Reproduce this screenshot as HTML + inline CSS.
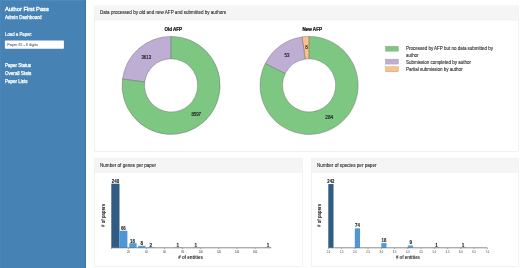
<!DOCTYPE html>
<html lang="en"><head><meta charset="utf-8"><title>Author First Pass - Admin Dashboard</title>
<style>html,body{margin:0;padding:0;background:#fff;overflow:hidden}svg{display:block;will-change:transform}text{white-space:pre}</style></head><body>
<svg width="520" height="268" viewBox="0 0 520 268">
<rect width="520" height="268" fill="#ffffff"/>
<rect x="0" y="0" width="86" height="268" fill="#4682b4"/>
<rect x="84.4" y="0" width="1.5" height="268" fill="#3f79aa"/>
<rect x="0" y="0" width="84.4" height="1" fill="#4d89bb"/>
<rect x="0" y="0" width="0.8" height="268" fill="#4d89bb"/>
<text x="5.0" y="11.1" font-family="Liberation Sans, sans-serif" font-size="6.0" font-weight="normal" fill="#ffffff" text-anchor="start" textLength="43.8" lengthAdjust="spacingAndGlyphs" stroke="#ffffff" stroke-width="0.34">Author First Pass</text>
<text x="5.0" y="18.8" font-family="Liberation Sans, sans-serif" font-size="4.8" font-weight="normal" fill="#ffffff" text-anchor="start" textLength="36.5" lengthAdjust="spacingAndGlyphs" stroke="#ffffff" stroke-width="0.25">Admin Dashboard</text>
<text x="5.0" y="36.1" font-family="Liberation Sans, sans-serif" font-size="4.7" font-weight="normal" fill="#ffffff" text-anchor="start" textLength="27.2" lengthAdjust="spacingAndGlyphs" stroke="#ffffff" stroke-width="0.2">Load a Paper:</text>
<rect x="4.9" y="40.5" width="59" height="8.3" rx="0.8" fill="#ffffff"/>
<text x="7.2" y="45.9" font-family="Liberation Sans, sans-serif" font-size="4.0" font-weight="normal" fill="#707070" text-anchor="start" textLength="30.8" lengthAdjust="spacingAndGlyphs" stroke="#707070" stroke-width="0.1">Paper ID - 8 digits</text>
<text x="4.9" y="67.0" font-family="Liberation Sans, sans-serif" font-size="4.8" font-weight="normal" fill="#ffffff" text-anchor="start" textLength="26" lengthAdjust="spacingAndGlyphs" stroke="#ffffff" stroke-width="0.25">Paper Status</text>
<text x="4.9" y="74.8" font-family="Liberation Sans, sans-serif" font-size="4.8" font-weight="normal" fill="#ffffff" text-anchor="start" textLength="26.4" lengthAdjust="spacingAndGlyphs" stroke="#ffffff" stroke-width="0.25">Overall Stats</text>
<text x="4.9" y="82.5" font-family="Liberation Sans, sans-serif" font-size="4.8" font-weight="normal" fill="#ffffff" text-anchor="start" textLength="22.6" lengthAdjust="spacingAndGlyphs" stroke="#ffffff" stroke-width="0.25">Paper Lists</text>
<rect x="94.5" y="6.0" width="424.2" height="145.3" fill="#ffffff" stroke="#e6e6e6" stroke-width="0.5"/>
<rect x="94.75" y="6.25" width="423.7" height="13.7" fill="#f5f5f5"/>
<line x1="94.5" y1="19.95" x2="518.7" y2="19.95" stroke="#e6e6e6" stroke-width="0.5"/>
<text x="100.0" y="14.35" font-family="Liberation Sans, sans-serif" font-size="4.8" font-weight="normal" fill="#333333" text-anchor="start" textLength="126" lengthAdjust="spacingAndGlyphs" stroke="#333333" stroke-width="0.12">Data processed by old and new AFP and submitted by authors</text>
<rect x="94.5" y="158.4" width="208.2" height="108.3" fill="#ffffff" stroke="#e6e6e6" stroke-width="0.5"/>
<rect x="94.75" y="158.65" width="207.7" height="13.6" fill="#f5f5f5"/>
<line x1="94.5" y1="172.25" x2="302.7" y2="172.25" stroke="#e6e6e6" stroke-width="0.5"/>
<text x="100.0" y="166.70000000000002" font-family="Liberation Sans, sans-serif" font-size="4.8" font-weight="normal" fill="#333333" text-anchor="start" textLength="56" lengthAdjust="spacingAndGlyphs" stroke="#333333" stroke-width="0.12">Number of genes per paper</text>
<rect x="311.5" y="158.4" width="207.2" height="108.3" fill="#ffffff" stroke="#e6e6e6" stroke-width="0.5"/>
<rect x="311.75" y="158.65" width="206.7" height="13.6" fill="#f5f5f5"/>
<line x1="311.5" y1="172.25" x2="518.7" y2="172.25" stroke="#e6e6e6" stroke-width="0.5"/>
<text x="317.0" y="166.70000000000002" font-family="Liberation Sans, sans-serif" font-size="4.8" font-weight="normal" fill="#333333" text-anchor="start" textLength="59.5" lengthAdjust="spacingAndGlyphs" stroke="#333333" stroke-width="0.12">Number of species per paper</text>
<path d="M171.10,36.40 A49.0,49.0 0 0 0 122.51,79.09 L144.72,81.97 A26.6,26.6 0 0 1 171.10,58.80 Z" fill="#beaed4" stroke="#6a6a6a" stroke-width="0.45" stroke-linejoin="round"/>
<path d="M122.51,79.09 A49.0,49.0 0 1 0 171.10,36.40 L171.10,58.80 A26.6,26.6 0 1 1 144.72,81.97 Z" fill="#7ec782" stroke="#6a6a6a" stroke-width="0.45" stroke-linejoin="round"/>
<path d="M309.10,36.40 A49.0,49.0 0 0 0 301.98,36.92 L305.24,59.08 A26.6,26.6 0 0 1 309.10,58.80 Z" fill="#fdc086" stroke="#6a6a6a" stroke-width="0.45" stroke-linejoin="round"/>
<path d="M301.98,36.92 A49.0,49.0 0 0 0 265.19,63.65 L285.26,73.59 A26.6,26.6 0 0 1 305.24,59.08 Z" fill="#beaed4" stroke="#6a6a6a" stroke-width="0.45" stroke-linejoin="round"/>
<path d="M265.19,63.65 A49.0,49.0 0 1 0 309.10,36.40 L309.10,58.80 A26.6,26.6 0 1 1 285.26,73.59 Z" fill="#7ec782" stroke="#6a6a6a" stroke-width="0.45" stroke-linejoin="round"/>
<text x="173.2" y="30.8" font-family="Liberation Sans, sans-serif" font-size="4.46" font-weight="bold" fill="#111111" text-anchor="middle" textLength="17.6" lengthAdjust="spacingAndGlyphs" stroke="#111111" stroke-width="0.22">Old AFP</text>
<text x="312.2" y="30.8" font-family="Liberation Sans, sans-serif" font-size="4.5" font-weight="bold" fill="#111111" text-anchor="middle" textLength="19.5" lengthAdjust="spacingAndGlyphs" stroke="#111111" stroke-width="0.22">New AFP</text>
<text x="146.3" y="58.5" font-family="Liberation Sans, sans-serif" font-size="4.5" font-weight="normal" fill="#222222" text-anchor="middle" textLength="9.8" lengthAdjust="spacingAndGlyphs" stroke="#222222" stroke-width="0.16">3613</text>
<text x="196.2" y="115.5" font-family="Liberation Sans, sans-serif" font-size="4.5" font-weight="normal" fill="#222222" text-anchor="middle" textLength="9.6" lengthAdjust="spacingAndGlyphs" stroke="#222222" stroke-width="0.16">8597</text>
<text x="286.9" y="56.5" font-family="Liberation Sans, sans-serif" font-size="4.5" font-weight="normal" fill="#222222" text-anchor="middle" textLength="4.9" lengthAdjust="spacingAndGlyphs" stroke="#222222" stroke-width="0.16">53</text>
<text x="306.4" y="49.4" font-family="Liberation Sans, sans-serif" font-size="4.5" font-weight="normal" fill="#222222" text-anchor="middle" stroke="#222222" stroke-width="0.16">8</text>
<text x="329.3" y="119.3" font-family="Liberation Sans, sans-serif" font-size="4.5" font-weight="normal" fill="#222222" text-anchor="middle" textLength="7.9" lengthAdjust="spacingAndGlyphs" stroke="#222222" stroke-width="0.16">284</text>
<rect x="385.5" y="46.2" width="13" height="5.1" fill="#7ec782" stroke="#8a8a8a" stroke-width="0.3"/>
<rect x="385.5" y="59.1" width="13" height="5.0" fill="#beaed4" stroke="#8a8a8a" stroke-width="0.3"/>
<rect x="385.5" y="66.7" width="13" height="5.1" fill="#fdc086" stroke="#8a8a8a" stroke-width="0.3"/>
<text x="406" y="50.4" font-family="Liberation Sans, sans-serif" font-size="4.7" font-weight="normal" fill="#333333" text-anchor="start" textLength="87" lengthAdjust="spacingAndGlyphs" stroke="#333333" stroke-width="0.12">Processed by AFP but no data submitted by</text>
<text x="406" y="57.1" font-family="Liberation Sans, sans-serif" font-size="4.7" font-weight="normal" fill="#333333" text-anchor="start" textLength="12.5" lengthAdjust="spacingAndGlyphs" stroke="#333333" stroke-width="0.12">author</text>
<text x="406" y="63.85" font-family="Liberation Sans, sans-serif" font-size="4.7" font-weight="normal" fill="#333333" text-anchor="start" textLength="65" lengthAdjust="spacingAndGlyphs" stroke="#333333" stroke-width="0.12">Submission completed by author</text>
<text x="406" y="70.8" font-family="Liberation Sans, sans-serif" font-size="4.7" font-weight="normal" fill="#333333" text-anchor="start" textLength="56.5" lengthAdjust="spacingAndGlyphs" stroke="#333333" stroke-width="0.12">Partial submission by author</text>
<rect x="111.30" y="183.70" width="8.20" height="64.10" fill="#2f5b85"/>
<rect x="119.50" y="230.74" width="7.90" height="17.06" fill="#4e97d6"/>
<rect x="129.30" y="243.15" width="7.30" height="4.65" fill="#4f9ad8"/>
<rect x="138.10" y="245.73" width="7.40" height="2.07" fill="#5aa5e0"/>
<rect x="147.40" y="247.28" width="7.30" height="0.52" fill="#7ab8ea"/>
<rect x="174.48" y="247.39" width="7.40" height="0.41" fill="#8cc0ea"/>
<rect x="192.58" y="247.39" width="7.40" height="0.41" fill="#8cc0ea"/>
<rect x="264.98" y="247.39" width="7.40" height="0.41" fill="#8cc0ea"/>
<line x1="111.2" y1="247.8" x2="271" y2="247.8" stroke="#5c5c5c" stroke-width="0.7"/>
<text x="115.5" y="183.1" font-family="Liberation Sans, sans-serif" font-size="4.6" font-weight="bold" fill="#222222" text-anchor="middle" textLength="7.3" lengthAdjust="spacingAndGlyphs" stroke="#222222" stroke-width="0.1">248</text>
<text x="123.3" y="230.2" font-family="Liberation Sans, sans-serif" font-size="4.6" font-weight="bold" fill="#222222" text-anchor="middle" textLength="4.8" lengthAdjust="spacingAndGlyphs" stroke="#222222" stroke-width="0.1">66</text>
<text x="132.5" y="242.6" font-family="Liberation Sans, sans-serif" font-size="4.6" font-weight="bold" fill="#222222" text-anchor="middle" textLength="4.8" lengthAdjust="spacingAndGlyphs" stroke="#222222" stroke-width="0.1">18</text>
<text x="141.7" y="245.2" font-family="Liberation Sans, sans-serif" font-size="4.6" font-weight="bold" fill="#222222" text-anchor="middle" stroke="#222222" stroke-width="0.1">8</text>
<text x="150.7" y="246.8" font-family="Liberation Sans, sans-serif" font-size="4.6" font-weight="bold" fill="#222222" text-anchor="middle" stroke="#222222" stroke-width="0.1">2</text>
<text x="177.9" y="247.0" font-family="Liberation Sans, sans-serif" font-size="4.6" font-weight="bold" fill="#222222" text-anchor="middle" stroke="#222222" stroke-width="0.1">1</text>
<text x="195.7" y="247.0" font-family="Liberation Sans, sans-serif" font-size="4.6" font-weight="bold" fill="#222222" text-anchor="middle" stroke="#222222" stroke-width="0.1">1</text>
<text x="268.0" y="247.0" font-family="Liberation Sans, sans-serif" font-size="4.6" font-weight="bold" fill="#222222" text-anchor="middle" stroke="#222222" stroke-width="0.1">1</text>
<line x1="111.60" y1="247.8" x2="111.60" y2="249.10000000000002" stroke="#555555" stroke-width="0.45"/>
<line x1="128.40" y1="247.8" x2="128.40" y2="249.10000000000002" stroke="#555555" stroke-width="0.45"/>
<text x="128.40" y="253.15" font-family="Liberation Sans, sans-serif" font-size="2.6" font-weight="normal" fill="#333333" text-anchor="middle">20</text>
<line x1="146.50" y1="247.8" x2="146.50" y2="249.10000000000002" stroke="#555555" stroke-width="0.45"/>
<text x="146.50" y="253.15" font-family="Liberation Sans, sans-serif" font-size="2.6" font-weight="normal" fill="#333333" text-anchor="middle">40</text>
<line x1="164.60" y1="247.8" x2="164.60" y2="249.10000000000002" stroke="#555555" stroke-width="0.45"/>
<text x="164.60" y="253.15" font-family="Liberation Sans, sans-serif" font-size="2.6" font-weight="normal" fill="#333333" text-anchor="middle">60</text>
<line x1="182.70" y1="247.8" x2="182.70" y2="249.10000000000002" stroke="#555555" stroke-width="0.45"/>
<text x="182.70" y="253.15" font-family="Liberation Sans, sans-serif" font-size="2.6" font-weight="normal" fill="#333333" text-anchor="middle">80</text>
<line x1="200.80" y1="247.8" x2="200.80" y2="249.10000000000002" stroke="#555555" stroke-width="0.45"/>
<text x="200.80" y="253.15" font-family="Liberation Sans, sans-serif" font-size="2.6" font-weight="normal" fill="#333333" text-anchor="middle">100</text>
<line x1="218.90" y1="247.8" x2="218.90" y2="249.10000000000002" stroke="#555555" stroke-width="0.45"/>
<text x="218.90" y="253.15" font-family="Liberation Sans, sans-serif" font-size="2.6" font-weight="normal" fill="#333333" text-anchor="middle">120</text>
<line x1="237.00" y1="247.8" x2="237.00" y2="249.10000000000002" stroke="#555555" stroke-width="0.45"/>
<text x="237.00" y="253.15" font-family="Liberation Sans, sans-serif" font-size="2.6" font-weight="normal" fill="#333333" text-anchor="middle">140</text>
<line x1="255.10" y1="247.8" x2="255.10" y2="249.10000000000002" stroke="#555555" stroke-width="0.45"/>
<text x="255.10" y="253.15" font-family="Liberation Sans, sans-serif" font-size="2.6" font-weight="normal" fill="#333333" text-anchor="middle">160</text>
<text x="190.6" y="258.6" font-family="Liberation Sans, sans-serif" font-size="4.65" font-weight="bold" fill="#222222" text-anchor="middle" textLength="24.9" lengthAdjust="spacingAndGlyphs"># of entities</text>
<text transform="translate(104.6,215.4) rotate(-90)" font-family="Liberation Sans, sans-serif" font-size="4.65" font-weight="bold" fill="#222222" text-anchor="middle" textLength="23.2" lengthAdjust="spacingAndGlyphs"># of papers</text>
<rect x="328.30" y="184.05" width="5.20" height="63.75" fill="#2f5b85"/>
<rect x="354.80" y="228.31" width="5.20" height="19.49" fill="#4e97d6"/>
<rect x="381.30" y="243.06" width="5.20" height="4.74" fill="#4f9ad8"/>
<rect x="407.80" y="245.43" width="5.20" height="2.37" fill="#5aa5e0"/>
<rect x="434.30" y="247.38" width="5.20" height="0.42" fill="#8cc0ea"/>
<rect x="460.80" y="247.38" width="5.20" height="0.42" fill="#8cc0ea"/>
<line x1="328.3" y1="247.8" x2="487.3" y2="247.8" stroke="#5c5c5c" stroke-width="0.7"/>
<text x="330.8" y="183.2" font-family="Liberation Sans, sans-serif" font-size="4.6" font-weight="bold" fill="#222222" text-anchor="middle" textLength="7.0" lengthAdjust="spacingAndGlyphs" stroke="#222222" stroke-width="0.1">242</text>
<text x="357.5" y="226.7" font-family="Liberation Sans, sans-serif" font-size="4.6" font-weight="bold" fill="#222222" text-anchor="middle" textLength="4.8" lengthAdjust="spacingAndGlyphs" stroke="#222222" stroke-width="0.1">74</text>
<text x="384.0" y="241.9" font-family="Liberation Sans, sans-serif" font-size="4.6" font-weight="bold" fill="#222222" text-anchor="middle" textLength="4.8" lengthAdjust="spacingAndGlyphs" stroke="#222222" stroke-width="0.1">18</text>
<text x="410.7" y="244.3" font-family="Liberation Sans, sans-serif" font-size="4.6" font-weight="bold" fill="#222222" text-anchor="middle" stroke="#222222" stroke-width="0.1">9</text>
<text x="436.5" y="246.8" font-family="Liberation Sans, sans-serif" font-size="4.6" font-weight="bold" fill="#222222" text-anchor="middle" stroke="#222222" stroke-width="0.1">1</text>
<text x="463.0" y="246.8" font-family="Liberation Sans, sans-serif" font-size="4.6" font-weight="bold" fill="#222222" text-anchor="middle" stroke="#222222" stroke-width="0.1">1</text>
<line x1="328.30" y1="247.8" x2="328.30" y2="249.10000000000002" stroke="#555555" stroke-width="0.45"/>
<text x="328.30" y="253.15" font-family="Liberation Sans, sans-serif" font-size="2.6" font-weight="normal" fill="#333333" text-anchor="middle">1.0</text>
<line x1="341.55" y1="247.8" x2="341.55" y2="249.10000000000002" stroke="#555555" stroke-width="0.45"/>
<text x="341.55" y="253.15" font-family="Liberation Sans, sans-serif" font-size="2.6" font-weight="normal" fill="#333333" text-anchor="middle">1.5</text>
<line x1="354.80" y1="247.8" x2="354.80" y2="249.10000000000002" stroke="#555555" stroke-width="0.45"/>
<text x="354.80" y="253.15" font-family="Liberation Sans, sans-serif" font-size="2.6" font-weight="normal" fill="#333333" text-anchor="middle">2.0</text>
<line x1="368.05" y1="247.8" x2="368.05" y2="249.10000000000002" stroke="#555555" stroke-width="0.45"/>
<text x="368.05" y="253.15" font-family="Liberation Sans, sans-serif" font-size="2.6" font-weight="normal" fill="#333333" text-anchor="middle">2.5</text>
<line x1="381.30" y1="247.8" x2="381.30" y2="249.10000000000002" stroke="#555555" stroke-width="0.45"/>
<text x="381.30" y="253.15" font-family="Liberation Sans, sans-serif" font-size="2.6" font-weight="normal" fill="#333333" text-anchor="middle">3.0</text>
<line x1="394.55" y1="247.8" x2="394.55" y2="249.10000000000002" stroke="#555555" stroke-width="0.45"/>
<text x="394.55" y="253.15" font-family="Liberation Sans, sans-serif" font-size="2.6" font-weight="normal" fill="#333333" text-anchor="middle">3.5</text>
<line x1="407.80" y1="247.8" x2="407.80" y2="249.10000000000002" stroke="#555555" stroke-width="0.45"/>
<text x="407.80" y="253.15" font-family="Liberation Sans, sans-serif" font-size="2.6" font-weight="normal" fill="#333333" text-anchor="middle">4.0</text>
<line x1="421.05" y1="247.8" x2="421.05" y2="249.10000000000002" stroke="#555555" stroke-width="0.45"/>
<text x="421.05" y="253.15" font-family="Liberation Sans, sans-serif" font-size="2.6" font-weight="normal" fill="#333333" text-anchor="middle">4.5</text>
<line x1="434.30" y1="247.8" x2="434.30" y2="249.10000000000002" stroke="#555555" stroke-width="0.45"/>
<text x="434.30" y="253.15" font-family="Liberation Sans, sans-serif" font-size="2.6" font-weight="normal" fill="#333333" text-anchor="middle">5.0</text>
<line x1="447.55" y1="247.8" x2="447.55" y2="249.10000000000002" stroke="#555555" stroke-width="0.45"/>
<text x="447.55" y="253.15" font-family="Liberation Sans, sans-serif" font-size="2.6" font-weight="normal" fill="#333333" text-anchor="middle">5.5</text>
<line x1="460.80" y1="247.8" x2="460.80" y2="249.10000000000002" stroke="#555555" stroke-width="0.45"/>
<text x="460.80" y="253.15" font-family="Liberation Sans, sans-serif" font-size="2.6" font-weight="normal" fill="#333333" text-anchor="middle">6.0</text>
<line x1="474.05" y1="247.8" x2="474.05" y2="249.10000000000002" stroke="#555555" stroke-width="0.45"/>
<text x="474.05" y="253.15" font-family="Liberation Sans, sans-serif" font-size="2.6" font-weight="normal" fill="#333333" text-anchor="middle">6.5</text>
<line x1="487.30" y1="247.8" x2="487.30" y2="249.10000000000002" stroke="#555555" stroke-width="0.45"/>
<text x="487.30" y="253.15" font-family="Liberation Sans, sans-serif" font-size="2.6" font-weight="normal" fill="#333333" text-anchor="middle">7.0</text>
<text x="408" y="258.6" font-family="Liberation Sans, sans-serif" font-size="4.65" font-weight="bold" fill="#222222" text-anchor="middle" textLength="24.1" lengthAdjust="spacingAndGlyphs"># of entities</text>
<text transform="translate(321.1,215.4) rotate(-90)" font-family="Liberation Sans, sans-serif" font-size="4.65" font-weight="bold" fill="#222222" text-anchor="middle" textLength="23.2" lengthAdjust="spacingAndGlyphs"># of papers</text>
</svg></body></html>
